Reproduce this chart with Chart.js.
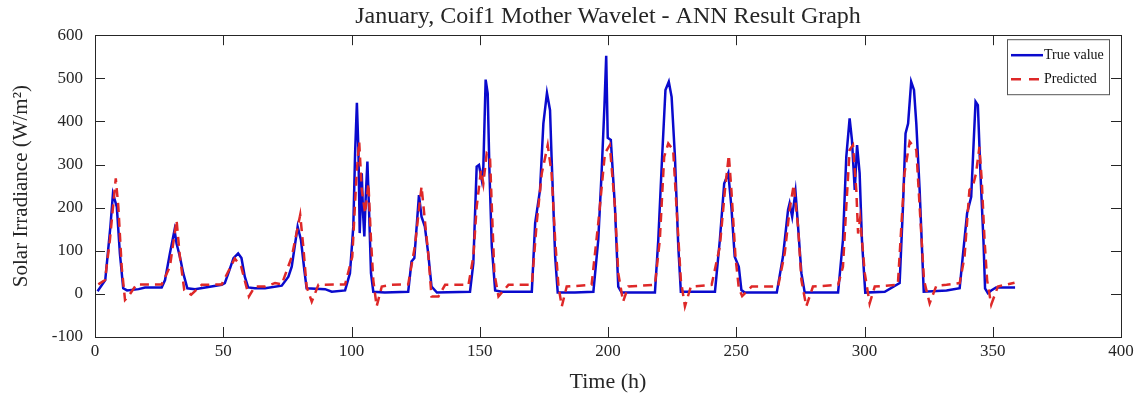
<!DOCTYPE html>
<html>
<head>
<meta charset="utf-8">
<script src="https://cdn.jsdelivr.net/npm/chart.js@4"></script>
<style>
  html, body { margin: 0; padding: 0; background: #fff; }
  #myChart { display: block; }
</style>
</head>
<body>
<canvas id="myChart" width="1145" height="398"></canvas>
<script>
// hours and values
const trueHours = [1, 4, 6, 7, 8.5, 9.7, 11, 12.5, 17, 19.5, 26, 27.3, 29.2, 31, 31.8, 33.1, 34.4, 36, 39, 43,
  49.4, 50.6, 52, 54, 55.8, 57.1, 58.4, 59.7, 62.3, 66.3, 72.8, 75.4, 76.7, 79, 80.3, 81.6, 82.5, 89.7, 92.3, 97.5,
  99.4, 100.7, 101.4, 102.1, 102.7, 103.2, 104, 104.5, 105, 105.5, 106.2, 106.8, 107.6, 108.5, 113, 122.1,
  123.4, 124.5, 126.3, 127.3, 128.6, 129.9, 131.2, 133.3, 146.2, 147.5, 148.8, 149.7, 150.8, 151.4, 152.3,
  153.1, 153.8, 154.7, 156, 158.6, 170.3, 171.6, 173.5, 174.8, 176.2, 177.4, 178, 179.4, 180.4, 187.1, 194.3,
  196.2, 197.5, 198.6, 199.3, 199.9, 201.1, 202.7, 204, 205.3, 218.3, 219.6, 221.1, 222.4, 223.7, 224.8, 226.1,
  227.4, 228.4, 241.7, 243.6, 245.3, 246.9, 248.1, 249.4, 251, 252, 253.3, 265.8, 268.2, 270.2, 270.8, 271.8,
  273.1, 274.1, 275.4, 276.7, 289.7, 291.6, 292.9, 294.2, 295.1, 296.2, 297.1, 298.1, 299, 300.3, 307.9, 313.7,
  315, 316, 317, 318.2, 319.3, 320.2, 321.5, 323.1, 332, 337.1, 338.3, 340, 341.6, 342.6, 343.3, 344.2, 345.2,
  346.4, 347, 348.1, 349.4, 351.3, 358.7];
const trueValue = [6, 32, 156, 232, 202, 94, 13, 8, 11, 15, 15, 32, 94, 148, 117, 86, 48, 13, 11, 15,
  21, 25, 48, 83, 94, 83, 40, 15, 13, 13, 19, 40, 63, 156, 125, 56, 13, 11, 5, 8,
  48, 156, 326, 443, 334, 141, 280, 187, 133, 218, 307, 202, 48, 5, 3, 5,
  75, 83, 229, 179, 156, 94, 17, 3, 5, 71, 295, 299, 264, 295, 497,
  465, 280, 110, 8, 5, 5, 164, 241, 395, 466, 426, 318, 86, 3, 3, 5,
  125, 280, 434, 552, 362, 357, 202, 17, 3, 3, 125, 318, 473, 492, 457, 318,
  110, 5, 5, 125, 256, 280, 202, 86, 63, 9, 3, 3, 86, 195, 210, 179,
  237, 156, 48, 3, 3, 125, 318, 407, 357, 241, 345, 280, 125, 3, 5, 25,
  202, 372, 395, 492, 473, 395, 241, 5, 8, 13, 86, 187, 225, 357, 446, 438, 280,
  120, 13, 2, 8, 15, 15];

const predHours = [1.3, 3.9, 5.8, 8.1, 9.1, 10.4, 11.7, 13, 16.2, 26, 29.2, 31.8, 33.1, 34.8, 37.5, 41.6,
  49.4, 54.5, 57, 60, 62.3, 66.3, 70.2, 72.8, 76.7, 80, 81.2, 82.5, 84.5, 87.1, 97.5, 100.3, 102, 103, 104,
  105.3, 106.6, 107.6, 108.5, 109.8, 111.8, 115.6, 122.1, 124.7, 127.3, 128.6, 129.9, 131.2, 133.9, 136.5,
  145.6, 147.5, 148.8, 150.5, 151.4, 152.7, 154, 154.7, 155.7, 157.3, 161.2, 170.3, 172.2, 174.2, 176.5,
  178, 179.4, 180.7, 182, 183.9, 193.6, 196.2, 198.8, 200.7, 202.7, 204, 205.9, 207.9, 218.3, 220.2, 221.9,
  223.5, 225.4, 226.7, 228.4, 230, 232.3, 240.4, 243.6, 245.6, 247.1, 248.1, 249.7, 251, 252.3, 256, 266.3,
  268.9, 270.8, 272.4, 274.1, 275.4, 277.3, 279.9, 289.7, 291.6, 292.9, 294.2, 295.5, 296.8, 297.5, 298.3,
  299.4, 300.1, 302, 304, 313, 315.6, 317.6, 320.2, 321.5, 323.2, 325.4, 328, 332, 337.1, 339, 340.9, 342.2,
  343.5, 344.8, 345.7, 346.8, 347.8, 349.4, 352, 358.5];
const predicted = [22, 32, 125, 268, 202, 63, -14, -6, 22, 22, 63, 171, 86, 9, -2, 21,
  22, 82, 63, -6, 17, 17, 25, 22, 86, 183, 110, 17, -18, 21, 22, 86, 280, 353, 241,
  187, 256, 125, 32, -29, 17, 21, 22, 110, 249, 171, 94, -6, -6, 21,
  21, 86, 202, 287, 256, 326, 318, 202, 48, -6, 21, 21, 164, 280, 345,
  280, 125, 17, -29, 17, 21, 164, 326, 345, 202, 48, -18, 17, 21, 125, 318,
  349, 334, 202, 32, -29, 17, 21, 110, 241, 322, 241, 86, 13, -5, 17, 17,
  94, 195, 253, 156, 32, -29, 17, 21, 63, 202, 334, 345, 241, 140, 175,
  98, 48, -22, 17, 21, 280, 353, 334, 202, 32, -22, 19, 21, 25, 86, 241, 249,
  280, 341, 264, 125, 32, -25, 17, 26];

const yTicks = [-100, 0, 100, 200, 300, 400, 500, 600];
const xTicks = [0, 50, 100, 150, 200, 250, 300, 350, 400];

const axisColor = "#262626";
const serif = "'Liberation Serif', 'Times New Roman', serif";

const toPoints = (xs, ys) => xs.map((x, i) => ({ x: x, y: ys[i] }));

// matlab style box with inward ticks
const frame = {
  id: "frame",
  afterDatasetsDraw(chart) {
    const { ctx, chartArea: a, scales } = chart;
    ctx.save();
    ctx.strokeStyle = axisColor;
    ctx.lineWidth = 1;
    ctx.strokeRect(Math.round(a.left) + 0.5, Math.round(a.top) + 0.5, Math.round(a.width), Math.round(a.height));
    ctx.beginPath();
    xTicks.forEach((v) => {
      const px = Math.round(scales.x.getPixelForValue(v)) + 0.5;
      ctx.moveTo(px, a.bottom); ctx.lineTo(px, a.bottom - 10);
      ctx.moveTo(px, a.top); ctx.lineTo(px, a.top + 10);
    });
    yTicks.forEach((v) => {
      const py = Math.round(scales.y.getPixelForValue(v)) + 0.5;
      ctx.moveTo(a.left, py); ctx.lineTo(a.left + 10, py);
      ctx.moveTo(a.right, py); ctx.lineTo(a.right - 10, py);
    });
    ctx.stroke();

    // legend box, top right inside the axes
    const w = 102, h = 55;
    const lx = a.right - 12 - w, ly = a.top + 4;
    ctx.fillStyle = "#fff";
    ctx.fillRect(lx, ly, w, h);
    ctx.strokeStyle = "#555";
    ctx.strokeRect(lx + 0.5, ly + 0.5, w, h);
    ctx.font = "14px " + serif;
    ctx.textBaseline = "middle";
    ctx.fillStyle = "#111";
    const ds = chart.data.datasets;
    const rows = [ds[1], ds[0]];
    rows.forEach((d, i) => {
      const yy = ly + 16 + i * 24;
      ctx.beginPath();
      ctx.strokeStyle = d.borderColor;
      ctx.lineWidth = d.borderWidth;
      ctx.setLineDash(d.borderDash ? [10, 8] : []);
      ctx.moveTo(lx + 4, yy); ctx.lineTo(lx + 36, yy);
      ctx.stroke();
      ctx.setLineDash([]);
      ctx.fillText(d.label, lx + 37, yy);
    });
    ctx.restore();
  },
};

new Chart(document.getElementById("myChart"), {
  type: "line",
  data: {
    datasets: [
      {
        label: "Predicted",
        data: toPoints(predHours, predicted),
        borderColor: "rgb(222, 40, 40)",
        borderWidth: 2.5,
        borderDash: [9, 6],
        pointRadius: 0,
        order: 0,
      },
      {
        label: "True value",
        data: toPoints(trueHours, trueValue),
        borderColor: "rgb(10, 10, 205)",
        borderWidth: 2.5,
        pointRadius: 0,
        order: 1,
      },
    ],
  },
  options: {
    responsive: false,
    animation: false,
    maintainAspectRatio: false,
    devicePixelRatio: 1,
    layout: { padding: { right: 24, left: 0, top: 0, bottom: 0 } },
    plugins: {
      legend: { display: false },
      tooltip: { enabled: false },
      title: {
        display: true,
        text: "January, Coif1 Mother Wavelet - ANN Result Graph",
        color: axisColor,
        fullSize: false,
        font: { family: serif, size: 24, weight: "normal", lineHeight: 1.05 },
        padding: { top: 4, bottom: 6 },
      },
    },
    scales: {
      x: {
        type: "linear",
        min: 0,
        max: 400,
        grid: { display: false },
        border: { display: false },
        ticks: { stepSize: 50, maxRotation: 0, color: axisColor, padding: -4, font: { family: serif, size: 17 } },
        title: {
          display: true,
          text: "Time (h)",
          color: axisColor,
          font: { family: serif, size: 22 },
          padding: { top: 0, bottom: 3 },
        },
        afterFit: (s) => { s.height = 61; },
      },
      y: {
        min: -100,
        max: 600,
        grid: { display: false },
        border: { display: false },
        ticks: { stepSize: 100, color: axisColor, padding: 4, font: { family: serif, size: 17 } },
        title: {
          display: true,
          text: "Solar Irradiance (W/m²)",
          color: axisColor,
          font: { family: serif, size: 21 },
          padding: { top: 9, bottom: 0 },
        },
        afterFit: (s) => { s.width = 95; },
      },
    },
  },
  plugins: [frame],
});
</script>
</body>
</html>
